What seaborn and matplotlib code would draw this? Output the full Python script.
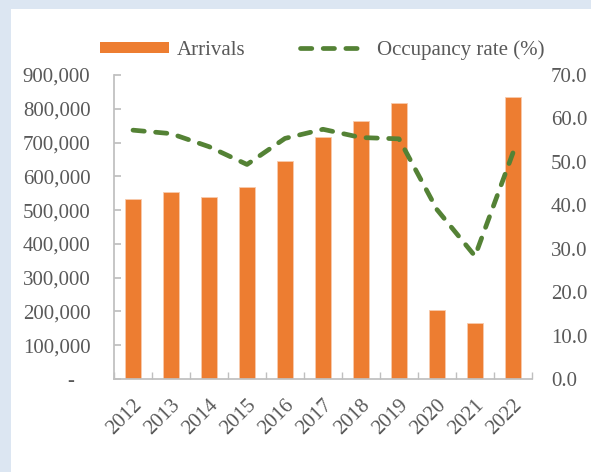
import numpy as np
import matplotlib
matplotlib.use("Agg")
import matplotlib.pyplot as plt
from matplotlib.patches import Patch, Rectangle
from matplotlib.lines import Line2D
from matplotlib.ticker import FuncFormatter, MultipleLocator
import seaborn as sns

# -------------------
# DATA
# -------------------
years = ["2012", "2013", "2014", "2015", "2016", "2017",
         "2018", "2019", "2020", "2021", "2022"]
arrivals = [534000, 553000, 540000, 569000, 645000, 717000,
            763000, 816000, 204000, 167000, 836000]
occupancy = [57.3, 56.5, 53.5, 49.4, 55.4, 57.5,
             55.6, 55.3, 39.0, 28.3, 52.1]

# -------------------
# STYLE
# -------------------
sns.set_theme(style="white")
plt.rcParams["font.family"] = ["Liberation Serif", "DejaVu Serif"]
txt = "#595959"
bar_color = "#ED7D31"
line_color = "#548235"
axis_gray = "#bfbfbf"

fig = plt.figure(figsize=(5.91, 4.72), dpi=100)
fig.patch.set_facecolor("#dce6f2")
fig.patches.append(Rectangle((11 / 591, 0), 1, 1 - 9 / 472,
                             transform=fig.transFigure,
                             facecolor="white", edgecolor="none", zorder=-10))

ax = fig.add_axes([114 / 591, 1 - 379 / 472, 418 / 591, 304 / 472])
ax.set_facecolor("none")

# bars
sns.barplot(x=years, y=arrivals, color=bar_color, width=0.4,
            edgecolor="#f8cbad", linewidth=0.6, saturation=1, ax=ax)
ax.set_xlim(-0.5, len(years) - 0.5)
ax.set_ylim(0, 900000)
ax.yaxis.set_major_locator(MultipleLocator(100000))
ax.yaxis.set_major_formatter(
    FuncFormatter(lambda v, p: "-   " if v == 0 else f"{int(v):,}"))

# occupancy line
ax2 = ax.twinx()
sns.lineplot(x=np.arange(len(years)), y=occupancy, color=line_color,
             linewidth=3.4, ax=ax2)
ln = ax2.lines[0]
ln.set_dashes((2.4, 2.4))
ln.set_dash_capstyle("round")
ax2.set_ylim(0, 70)
ax2.yaxis.set_major_locator(MultipleLocator(10))
ax2.yaxis.set_major_formatter(FuncFormatter(lambda v, p: f"{v:.1f}"))

# -------------------
# AXES LOOK
# -------------------
for a in (ax, ax2):
    for s in a.spines.values():
        s.set_visible(False)
ax.spines["left"].set_visible(True)
ax.spines["left"].set_color(axis_gray)
ax.spines["bottom"].set_visible(True)
ax.spines["bottom"].set_color(axis_gray)

ax.tick_params(axis="y", direction="in", length=5, color=axis_gray,
               labelsize=15, labelcolor=txt, pad=17, left=True)
ax2.tick_params(axis="y", length=0, labelsize=15, labelcolor=txt, pad=13.5)

ax.set_xticks(np.arange(len(years)))
ax.set_xticklabels(years, rotation=45, ha="right", rotation_mode="anchor")
ax.tick_params(axis="x", which="major", length=0, labelsize=15,
               labelcolor=txt, pad=12)
ax.set_xticks(np.arange(len(years) + 1) - 0.5, minor=True)
ax.tick_params(axis="x", which="minor", direction="in", length=5,
               color=axis_gray, bottom=True)
ax.set_xlabel("")
ax.set_ylabel("")
ax2.set_ylabel("")

# -------------------
# LEGEND
# -------------------
handles = [
    Patch(facecolor=bar_color, edgecolor="none"),
    Line2D([0], [0], color=line_color, linewidth=3.4,
           dashes=(2.4, 2.4), dash_capstyle="round"),
]
fig.legend(handles, ["Arrivals", "Occupancy rate (%)"], ncol=2,
           loc="center", bbox_to_anchor=(0.545, 1 - 50 / 472),
           frameon=False, fontsize=15, labelcolor=txt,
           handlelength=3.3, handleheight=0.5, handletextpad=0.4,
           columnspacing=2.6)

fig.savefig("out.png", dpi=100, facecolor=fig.get_facecolor())
